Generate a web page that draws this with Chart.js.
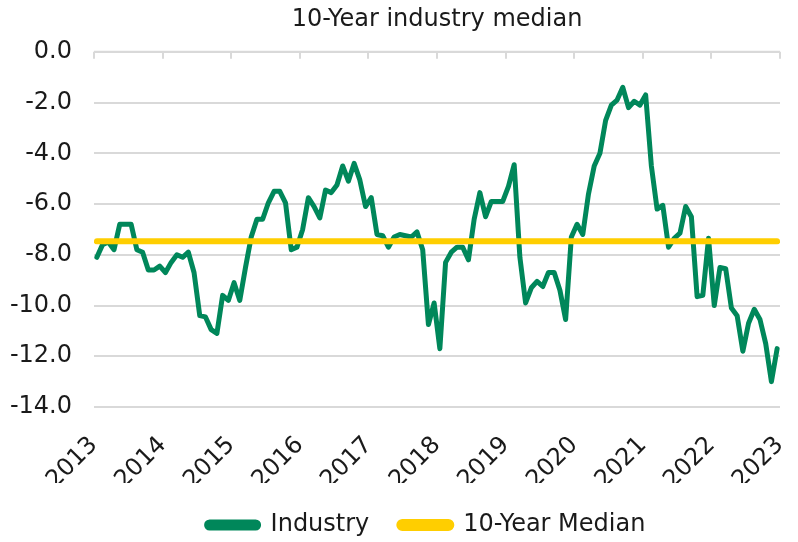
<!DOCTYPE html>
<html>
<head>
<meta charset="utf-8">
<script src="https://cdn.jsdelivr.net/npm/chart.js@4/dist/chart.umd.min.js"></script>
<style>
  html, body { margin: 0; padding: 0; background: #ffffff; }
  #wrap { width: 798px; height: 542px; }
</style>
</head>
<body>
<div id="wrap"><canvas id="c" width="798" height="542"></canvas></div>
<script>
// ---- Data (monthly, Jan 2013 - Dec 2022) ----
const startYear = 2013;
const industry = [
  -8.1, -7.6, -7.5, -7.8, -6.8, -6.8, -6.8, -7.8, -7.9, -8.6, -8.6, -8.45,
  -8.7, -8.3, -8.0, -8.1, -7.9, -8.7, -10.4, -10.45, -10.95, -11.1, -9.6, -9.8,
  -9.1, -9.8, -8.5, -7.3, -6.6, -6.6, -5.95, -5.5, -5.5, -5.95, -7.8, -7.7,
  -7.0, -5.75, -6.1, -6.55, -5.45, -5.55, -5.25, -4.5, -5.1, -4.4, -5.05, -6.1,
  -5.75, -7.2, -7.25, -7.7, -7.3, -7.2, -7.25, -7.3, -7.1, -7.8, -10.75, -9.9,
  -11.7, -8.3, -7.9, -7.7, -7.7, -8.2, -6.6, -5.55, -6.5, -5.9, -5.9, -5.9,
  -5.3, -4.45, -8.1, -9.9, -9.3, -9.05, -9.25, -8.7, -8.7, -9.4, -10.55, -7.3,
  -6.8, -7.2, -5.6, -4.5, -4.0, -2.7, -2.1, -1.9, -1.4, -2.2, -1.95, -2.1,
  -1.7, -4.5, -6.2, -6.05, -7.7, -7.35, -7.15, -6.1, -6.5, -9.65, -9.6, -7.35,
  -10.0, -8.5, -8.55, -10.1, -10.4, -11.8, -10.7, -10.15, -10.55, -11.5, -13.0, -11.7
];
const medianValue = -7.47;
const yearTicks = [2013, 2014, 2015, 2016, 2017, 2018, 2019, 2020, 2021, 2022, 2023];
const yTicks = [0, -2, -4, -6, -8, -10, -12, -14];
const seriesNames = ['Industry', '10-Year Median'];
const titleText = '10-Year industry median';

// month positions (mid-month on a yearly axis)
const monthX = industry.map((_, i) => startYear + Math.floor(i / 12) + ((i % 12) + 0.5) / 12);
const industryPts = industry.map((v, i) => ({ x: monthX[i], y: v }));
const medianPts = industry.map((_, i) => ({ x: monthX[i], y: medianValue }));

const GREEN = '#00875A';
const YELLOW = '#FFCE00';
const GRID = '#d9d9d9';
const TEXT = '#1a1a1a';
const FONT = "'DejaVu Sans', sans-serif";

const topAxisPlugin = {
  id: 'topAxis',
  afterInit(chart) {
    const lg = chart.legend;
    if (lg && !lg._patched) {
      const origFit = lg.fit.bind(lg);
      lg.fit = function () { origFit(); this.height -= 10; };
      const origDraw = lg.draw.bind(lg);
      lg.draw = function () {
        const c = this.ctx;
        c.save();
        c.translate(-11, 0);
        origDraw();
        c.restore();
      };
      lg._patched = true;
    }
  },
  beforeDatasetsDraw(chart) {
    const { ctx, chartArea } = chart;
    const xs = chart.scales.x;
    ctx.save();
    ctx.strokeStyle = GRID;
    ctx.lineWidth = 2;
    ctx.beginPath();
    ctx.moveTo(chartArea.left, chartArea.top);
    ctx.lineTo(chartArea.right, chartArea.top);
    yearTicks.forEach(y => {
      const px = Math.round(xs.getPixelForValue(y));
      ctx.moveTo(px, chartArea.top);
      ctx.lineTo(px, chartArea.top + 7);
    });
    ctx.stroke();
    ctx.restore();
  }
};

new Chart(document.getElementById('c'), {
  type: 'line',
  data: {
    datasets: [
      {
        label: seriesNames[0],
        data: industryPts,
        borderColor: GREEN,
        backgroundColor: GREEN,
        borderWidth: 5,
        pointRadius: 0,
        tension: 0,
        borderCapStyle: 'round',
        borderJoinStyle: 'round',
        order: 1
      },
      {
        label: seriesNames[1],
        data: medianPts,
        borderColor: YELLOW,
        backgroundColor: YELLOW,
        borderWidth: 6,
        pointRadius: 0,
        borderCapStyle: 'round',
        order: 0
      }
    ]
  },
  options: {
    responsive: false,
    animation: false,
    devicePixelRatio: 1,
    layout: { padding: { left: 0, right: 18, top: 0, bottom: 5 } },
    plugins: {
      title: {
        display: true,
        text: titleText,
        fullSize: false,
        color: TEXT,
        font: { family: FONT, size: 24, weight: 'normal' },
        padding: { top: 5, bottom: 18 }
      },
      legend: {
        position: 'bottom',
        fullSize: false,
        labels: {
          color: TEXT,
          font: { family: FONT, size: 24 },
          boxWidth: 52,
          boxHeight: 6,
          useBorderRadius: true,
          borderRadius: 3,
          padding: 30,
          sort: (a, b) => a.datasetIndex - b.datasetIndex
        }
      },
      tooltip: { enabled: false }
    },
    scales: {
      x: {
        type: 'linear',
        min: 2013,
        max: 2023,
        afterBuildTicks(scale) { scale.ticks = yearTicks.map(v => ({ value: v })); },
        afterFit(scale) {
          scale.height = 76;
          scale.paddingLeft = 0;
          scale.paddingRight = 0;
        },
        grid: { display: false, drawTicks: false },
        border: { display: false },
        ticks: {
          autoSkip: false,
          maxRotation: 45,
          minRotation: 45,
          padding: 24,
          color: TEXT,
          font: { family: FONT, size: 24 },
          callback: v => String(v)
        }
      },
      y: {
        min: -14,
        max: 0,
        afterBuildTicks(scale) { scale.ticks = yTicks.map(v => ({ value: v })); },
        afterFit(scale) { scale.width = 94; },
        grid: { color: GRID, lineWidth: 2, drawTicks: false },
        border: { display: false },
        ticks: {
          padding: 22,
          color: TEXT,
          font: { family: FONT, size: 24 },
          callback: v => Number(v).toFixed(1)
        }
      }
    }
  },
  plugins: [topAxisPlugin]
});
</script>
</body>
</html>
